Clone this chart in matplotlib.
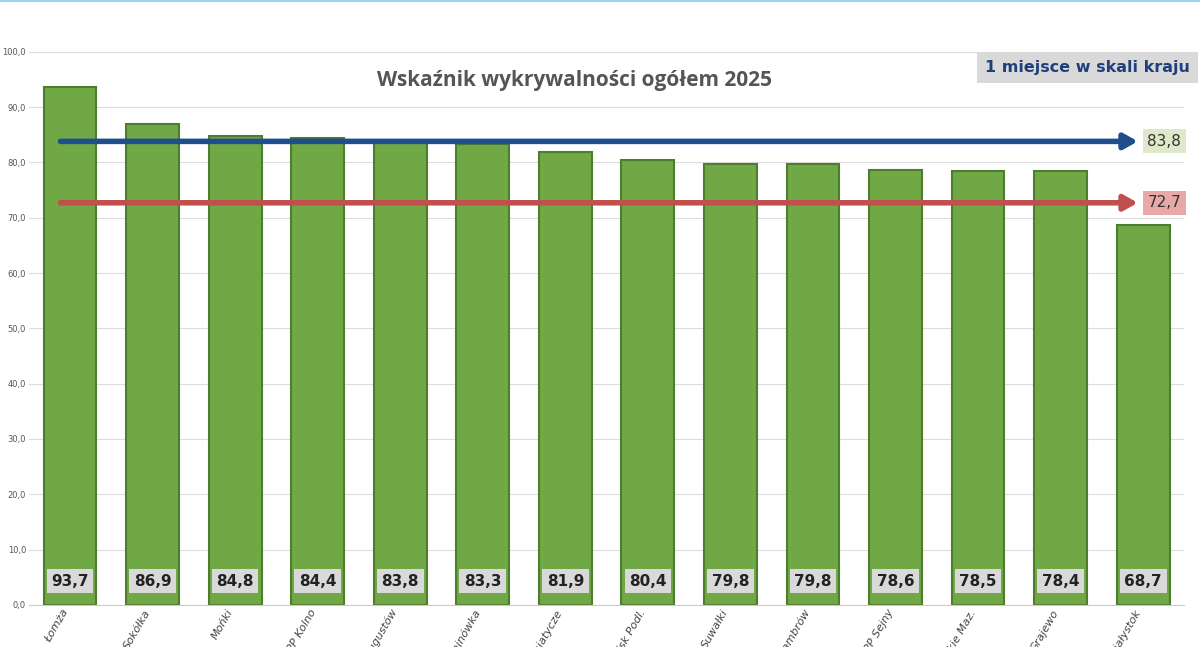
import matplotlib
matplotlib.use("Agg")
import matplotlib.pyplot as plt

categories = ["Łomża", "Sokółka", "Mońki", "KPP Kolno", "Augustów", "Hajnówka", "Siemiatycze",
              "Bielsk Podl.", "Suwałki", "Zambrów", "KPP Sejny", "Wysokie Maz.", "Grajewo", "Białystok"]
values = [93.7, 86.9, 84.8, 84.4, 83.8, 83.3, 81.9, 80.4, 79.8, 79.8, 78.6, 78.5, 78.4, 68.7]
avg_blue = 83.8
avg_red = 72.7
yticks = [0, 10, 20, 30, 40, 50, 60, 70, 80, 90, 100]

fig = plt.figure(figsize=(12, 6.47), dpi=100)
ax = fig.add_axes([0.024, 0.065, 0.963, 0.855])
x = range(len(values))
ax.bar(x, values, width=0.64, color="#70a845", edgecolor="#4e7d2e", linewidth=1.5, zorder=2)
ax.set_xlim(-0.5, len(values) - 0.5)
ax.set_ylim(0, 100)
ax.set_yticks(yticks)
ax.set_yticklabels([f"{t:.1f}".replace(".", ",") for t in yticks], fontsize=6, color="#555555")
ax.set_xticks(list(x))
ax.set_xticklabels(categories, rotation=60, ha="right", va="top", fontsize=8, color="#444444", style="italic")
ax.tick_params(length=0, pad=2)
ax.grid(axis="y", color="#dddddd", linewidth=0.8, zorder=0)
for s in ["top", "right", "left"]:
    ax.spines[s].set_visible(False)
ax.spines["bottom"].set_color("#cccccc")

for i, v in enumerate(values):
    ax.text(i, 4.3, f"{v:.1f}".replace(".", ","), ha="center", va="center", fontsize=11, fontweight="bold",
            color="#222222", bbox=dict(boxstyle="square,pad=0.3", fc="#d9d9d9", ec="none"), zorder=4)

for val, col, bg in [(avg_blue, "#1f4e8c", "#dfe8c8"), (avg_red, "#c0504d", "#e8a8a8")]:
    ax.annotate("", xy=(12.97, val), xytext=(-0.15, val),
                arrowprops=dict(arrowstyle="-|>,head_length=0.8,head_width=0.45", color=col, lw=4), zorder=5)
    ax.text(13.05, val, f"{val:.1f}".replace(".", ","), ha="left", va="center", fontsize=11, color="#333333",
            bbox=dict(boxstyle="square,pad=0.3", fc=bg, ec="none"), zorder=5)

fig.text(0.479, 0.875, "Wskaźnik wykrywalności ogółem 2025", ha="center", va="center",
         fontsize=15, fontweight="bold", color="#555555", family="Open Sans")
fig.text(0.906, 0.895, "1 miejsce w skali kraju", ha="center", va="center", fontsize=11.5, fontweight="bold",
         color="#1f3f7a", bbox=dict(boxstyle="square,pad=0.5", fc="#d9d9d9", ec="none"))
fig.add_artist(plt.Line2D([0, 1], [0.998, 0.998], color="#9fd3ea", lw=1.5))
fig.savefig("out.png", dpi=100)
